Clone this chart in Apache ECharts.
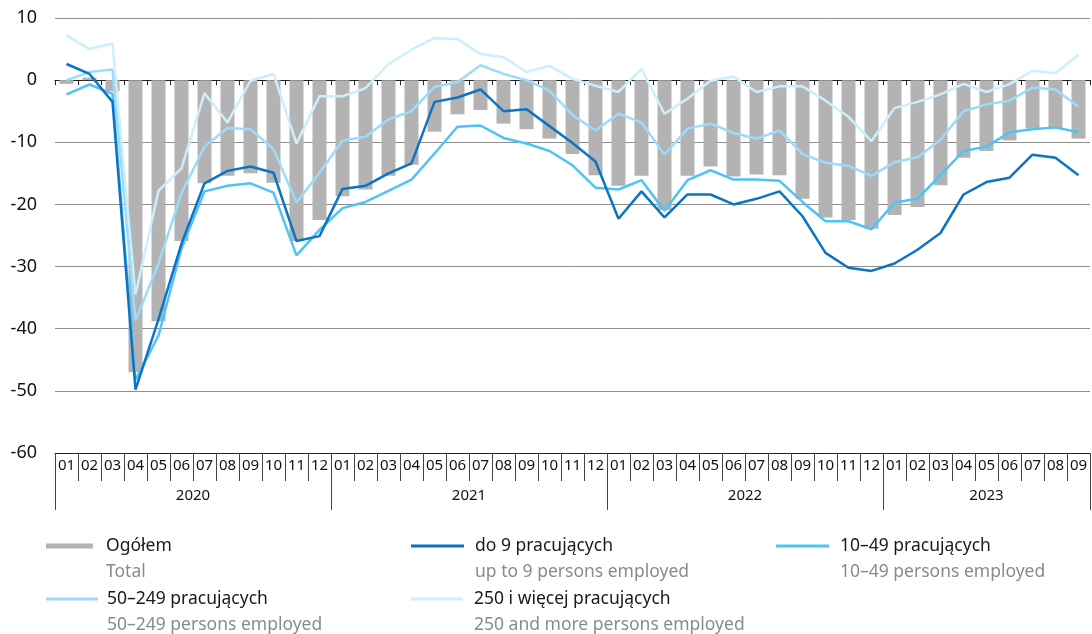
<!DOCTYPE html>
<html>
<head>
<meta charset="utf-8">
<script src="https://cdn.jsdelivr.net/npm/echarts@6/dist/echarts.min.js"></script>
<style>
html,body{margin:0;padding:0;background:#fff;}
#c{width:1092px;height:634px;}
</style>
</head>
<body>
<div id="c"></div>
<script>
const years = ['2020','2021','2022','2023'];
const monthsPerYear = [12,12,12,9];
const yTicks = {min:-60, max:10, interval:10};

const total   = [-0.6,0.4,-1.8,-47.0,-38.8,-25.9,-16.6,-15.4,-15.0,-16.5,-25.9,-22.5,
                 -18.7,-17.6,-15.4,-13.6,-8.3,-5.5,-4.8,-7.0,-7.9,-9.4,-11.9,-15.3,
                 -17.0,-15.4,-20.9,-15.4,-13.9,-15.5,-15.2,-15.3,-19.1,-22.1,-22.5,-23.9,
                 -21.7,-20.4,-16.9,-12.5,-11.4,-9.7,-7.8,-7.8,-9.4];
const upTo9   = [2.6,1.0,-3.5,-49.8,-38.5,-26.3,-16.6,-14.6,-13.9,-14.9,-25.9,-25.1,
                 -17.5,-17.0,-15.0,-13.4,-3.5,-2.8,-1.5,-5.0,-4.7,-7.4,-10.1,-13.1,
                 -22.3,-17.9,-22.1,-18.4,-18.4,-20.0,-19.1,-17.9,-21.9,-27.8,-30.2,-30.7,
                 -29.5,-27.3,-24.6,-18.4,-16.4,-15.7,-12.0,-12.5,-15.3];
const s10_49  = [-2.3,-0.7,-2.2,-48.3,-41.1,-27.1,-17.9,-17.0,-16.6,-18.1,-28.2,-24.1,
                 -20.6,-19.6,-17.8,-16.0,-11.8,-7.5,-7.3,-9.3,-10.2,-11.4,-13.7,-17.3,
                 -17.6,-16.1,-21.0,-16.1,-14.5,-16.0,-16.0,-16.2,-19.6,-22.7,-22.7,-24.0,
                 -19.7,-19.1,-15.3,-11.4,-10.7,-8.4,-7.9,-7.6,-8.4];
const s50_249 = [0.0,1.3,1.7,-38.7,-29.5,-18.2,-10.7,-7.7,-7.9,-11.1,-19.7,-14.9,
                 -9.7,-9.1,-6.3,-5.0,-1.1,-0.3,2.4,1.0,0.0,-1.7,-5.6,-8.1,
                 -5.4,-6.8,-12.0,-7.8,-7.0,-8.5,-9.4,-8.1,-11.9,-13.3,-13.8,-15.4,
                 -13.2,-12.4,-9.6,-5.0,-3.9,-3.3,-1.2,-1.5,-4.3];
const s250    = [7.2,5.0,5.9,-34.5,-17.8,-14.2,-2.1,-6.8,-0.1,1.0,-10.2,-2.6,
                 -2.6,-1.3,2.6,4.9,6.8,6.6,4.2,3.7,1.3,2.3,0.2,-0.9,
                 -1.9,1.8,-5.4,-3.0,-0.1,0.6,-1.9,-1.0,-1.0,-3.3,-5.9,-9.8,
                 -4.5,-3.5,-2.3,-0.6,-1.9,-0.65,1.5,1.1,4.1];

const seriesNames = {
  total: ['Ogółem','Total'],
  upTo9: ['do 9 pracujących','up to 9 persons employed'],
  s10_49: ['10–49 pracujących','10–49 persons employed'],
  s50_249: ['50–249 pracujących','50–249 persons employed'],
  s250: ['250 i więcej pracujących','250 and more persons employed']
};

const categories = [];
years.forEach((y, yi) => {
  for (let m = 1; m <= monthsPerYear[yi]; m++) categories.push(y + '-' + String(m).padStart(2,'0'));
});
const yearLabelIdx = {};
let start = 0;
years.forEach((y, yi) => {
  const n = monthsPerYear[yi];
  yearLabelIdx[Math.floor((start + start + n - 1) / 2)] = (n % 2 === 0) ? 'e' : 'o';
  start += n;
});
const yearStarts = [];
start = 0;
monthsPerYear.forEach(n => { yearStarts.push(start); start += n; });

const FONT = 'Noto Sans';
const C = {bar:'#b3b3b3', d9:'#0b74c4', d49:'#4fc3f7', d249:'#9bdcf8', d250:'#cdeefc'};

const chart = echarts.init(document.getElementById('c'));

function legendFor(name, sub, left, top, icon, w, h, padLeft) {
  return {
    data: [name], left: left, top: top, padding: 0, icon: icon,
    itemWidth: w, itemHeight: h, selectedMode: false,
    formatter: () => '{t|' + name + '}\n{s|' + sub + '}',
    textStyle: {
      fontFamily: FONT, padding: [26, 0, 0, padLeft],
      rich: {
        t: {fontFamily: FONT, fontSize: 17.5, color: '#1a1a1a', lineHeight: 26},
        s: {fontFamily: FONT, fontSize: 17.5, color: '#8a8a8a', lineHeight: 26}
      }
    }
  };
}

const option = {
  animation: false,
  backgroundColor: '#fff',
  textStyle: {fontFamily: FONT},
  grid: {left: 55, right: 2, top: 18, bottom: 181, containLabel: false},
  legend: [
    legendFor(seriesNames.total[0], seriesNames.total[1], 46, 537, 'rect', 47, 5, 8),
    legendFor(seriesNames.upTo9[0], seriesNames.upTo9[1], 411, 537, 'rect', 53, 3, 6),
    legendFor(seriesNames.s10_49[0], seriesNames.s10_49[1], 776, 537, 'rect', 53, 3, 6),
    legendFor(seriesNames.s50_249[0], seriesNames.s50_249[1], 46, 590, 'rect', 52, 3, 4),
    legendFor(seriesNames.s250[0], seriesNames.s250[1], 411, 590, 'rect', 52, 3, 6)
  ],
  xAxis: [
    {
      type: 'category', data: categories, position: 'bottom',
      axisLine: {onZero: false, lineStyle: {color: '#222', width: 1}},
      axisTick: {show: true, interval: 0, length: 28, lineStyle: {color: '#444'}},
      axisLabel: {interval: 0, margin: 5, fontFamily: FONT, fontSize: 15, color: '#111',
                  formatter: v => v.slice(5)},
      splitLine: {show: false}
    },
    {
      type: 'category', data: categories, position: 'bottom',
      axisLine: {onZero: false, show: false},
      axisTick: {show: true, length: 57, lineStyle: {color: '#444'},
                 interval: (idx) => yearStarts.indexOf(idx) >= 0},
      axisLabel: {margin: 35, fontFamily: FONT, fontSize: 15, color: '#111',
                  interval: (idx) => yearLabelIdx[idx] !== undefined,
                  formatter: (v, idx) => yearLabelIdx[idx] === 'e' ? '{e|' + v.slice(0,4) + '}' : '{o|' + v.slice(0,4) + '}',
                  rich: {
                    e: {fontFamily: FONT, fontSize: 15, color: '#111', padding: [0,0,0,23]},
                    o: {fontFamily: FONT, fontSize: 15, color: '#111'}
                  }},
      splitLine: {show: false}
    },
    {
      type: 'category', data: categories, position: 'bottom',
      axisLine: {onZero: true, lineStyle: {color: '#222', width: 1}},
      axisTick: {show: true, interval: 0, length: 5, lineStyle: {color: '#222'}},
      axisLabel: {show: false},
      splitLine: {show: false}
    }
  ],
  yAxis: {
    type: 'value', min: yTicks.min, max: yTicks.max, interval: yTicks.interval,
    axisLine: {show: false}, axisTick: {show: false},
    axisLabel: {margin: 18, fontFamily: FONT, fontSize: 18, color: '#111'},
    splitLine: {lineStyle: {color: '#8f8f8f', width: 1}}
  },
  series: [
    {name: seriesNames.total[0], type: 'bar', data: total, barWidth: 14, xAxisIndex: 0,
     itemStyle: {color: C.bar}},
    {name: seriesNames.s250[0], type: 'line', data: s250, xAxisIndex: 0, symbol: 'none',
     color: C.d250, lineStyle: {color: C.d250, width: 2.5}},
    {name: seriesNames.s50_249[0], type: 'line', data: s50_249, xAxisIndex: 0, symbol: 'none',
     color: C.d249, lineStyle: {color: C.d249, width: 2.5}},
    {name: seriesNames.s10_49[0], type: 'line', data: s10_49, xAxisIndex: 0, symbol: 'none',
     color: C.d49, lineStyle: {color: C.d49, width: 2.5}},
    {name: seriesNames.upTo9[0], type: 'line', data: upTo9, xAxisIndex: 0, symbol: 'none',
     color: C.d9, lineStyle: {color: C.d9, width: 2.5}}
  ]
};
chart.setOption(option);
</script>
</body>
</html>
